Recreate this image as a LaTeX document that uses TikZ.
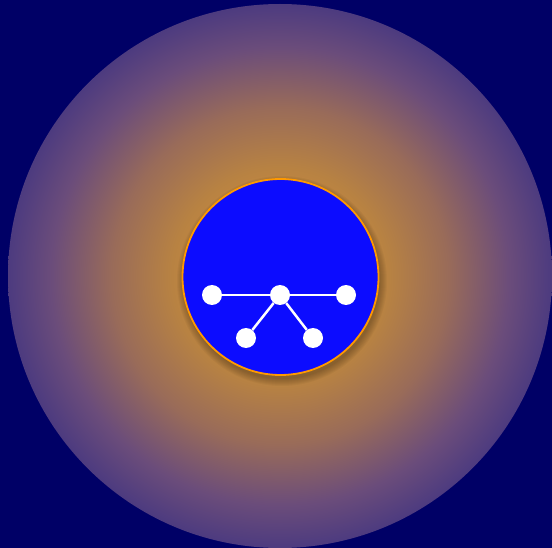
\documentclass[tikz,border=0pt]{standalone}
\usepackage{tikz}
\usetikzlibrary{positioning}
\usepackage{xcolor}
\definecolor{night}{HTML}{000066}
\definecolor{disc}{HTML}{0C0CFF}
\definecolor{rim}{HTML}{FF9900}
\pgfdeclareradialshading{glow}{\pgfpoint{0bp}{0bp}}{%
  rgb(0bp)=(0.90,0.60,0.22);
  rgb(10bp)=(0.72,0.51,0.26);
  rgb(15.5bp)=(0.60,0.42,0.35);
  rgb(21bp)=(0.42,0.30,0.48);
  rgb(25bp)=(0.30,0.23,0.50);
  rgb(50bp)=(0.30,0.23,0.50)}

\begin{document}
\begin{tikzpicture}[
  x=1pt, y=-1pt,
  dot/.style={circle, fill=white, inner sep=0pt, minimum size=20pt},
  link/.style={draw=white, line width=2.5pt}
]
  % Frame
  \useasboundingbox (0,0) rectangle (552,548);
  \fill[night] (0,0) rectangle (552,548);

  % Glow
  \shade[shading=glow] (280,276) circle (272pt);

  % Soft shadow under the disc
  \foreach \r in {1,...,8}
    \fill[black, opacity=0.035] (282,281) circle (97pt+\r pt);

  % Disc
  \draw[fill=disc, draw=rim, line width=1.8pt] (280.5,277) circle (98pt);

  % Tree
  \node[dot] (hub)    at (280,295) {};
  \node[dot] (leafL)  at (212,295) {};
  \node[dot] (leafR)  at (346,295) {};
  \node[dot] (leafBL) at (246,338) {};
  \node[dot] (leafBR) at (313,338) {};
  \foreach \n in {leafL,leafR,leafBL,leafBR}
    \draw[link] (hub) -- (\n);
\end{tikzpicture}
\end{document}
